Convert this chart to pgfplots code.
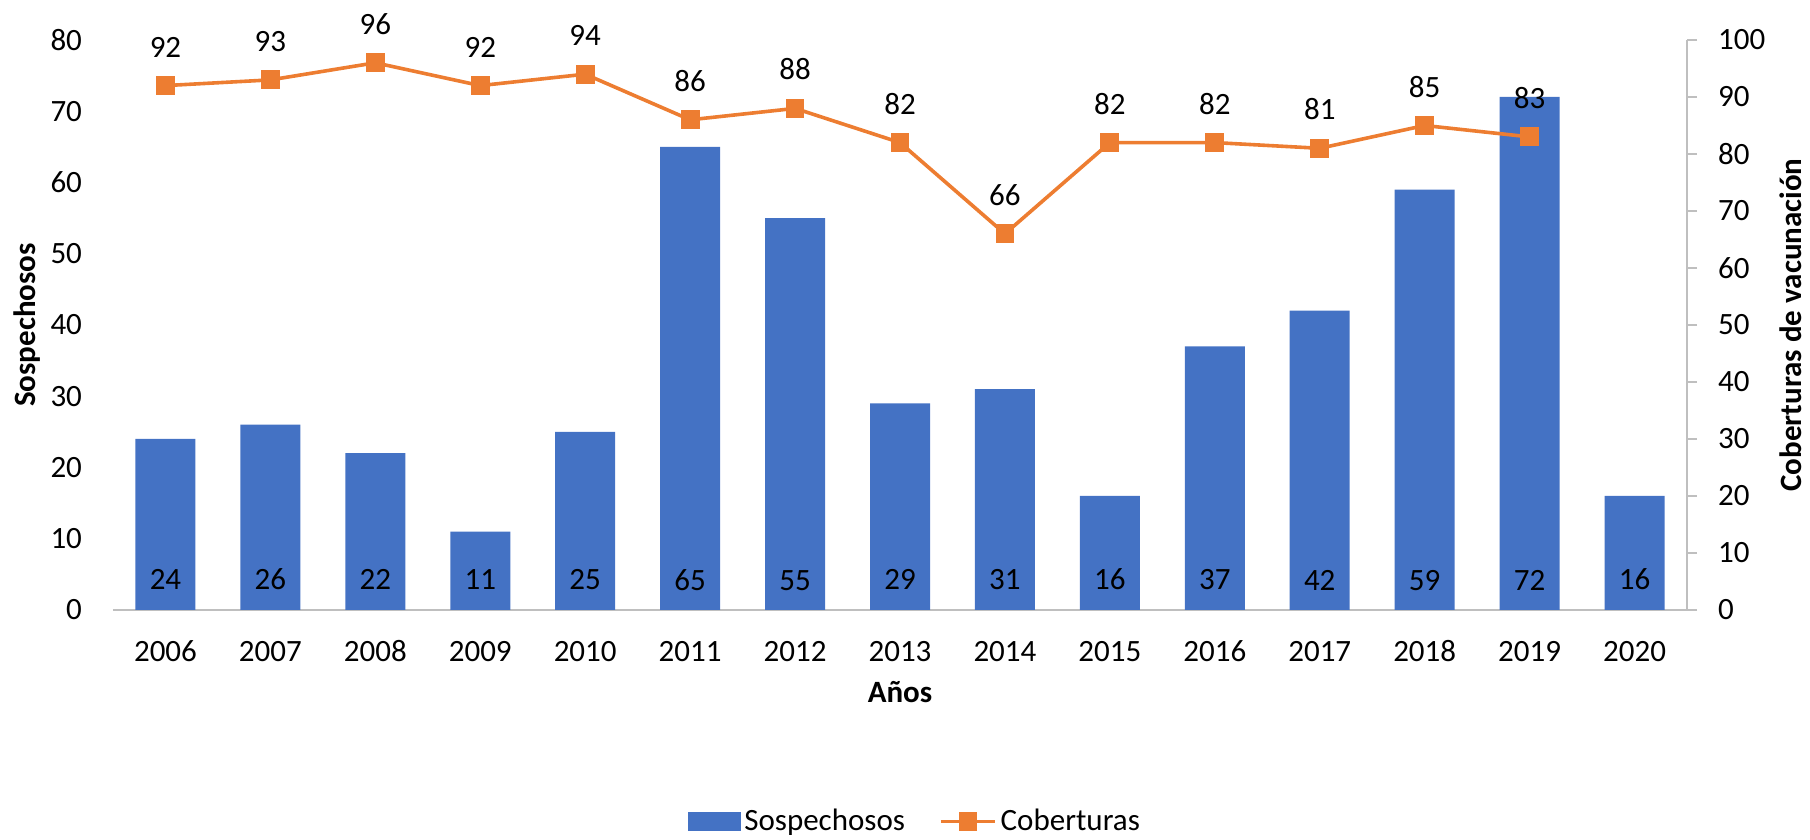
\documentclass[border=0pt]{standalone}
\usepackage{fontspec}
\setmainfont{Carlito}
\usepackage{pgfplots}
\pgfplotsset{compat=1.18}
\definecolor{barblue}{RGB}{68,114,196}
\definecolor{lineorange}{RGB}{237,125,49}
\definecolor{axisgray}{RGB}{191,191,191}
\pgfplotsset{
    wideline legend/.style={
        legend image code/.code={
            \draw[mark repeat=2, mark phase=2, ##1] plot coordinates {(0pt,0pt) (13.5pt,0pt) (27pt,0pt)};}},
    box legend/.style={
        legend image code/.code={\fill[##1] (0pt,-4.5pt) rectangle (26pt,4.5pt);}},
}

\begin{document}
\begin{tikzpicture}[font=\fontsize{15.5}{18}\selectfont]
\useasboundingbox (-56.5pt,-115pt) rectangle (848.5pt,305pt);
% bars, left axis
\begin{axis}[
    at={(0pt,0pt)}, anchor=south west,
    width=787pt, height=285pt, scale only axis,
    xmin=-0.5, xmax=14.5, ymin=0, ymax=80,
    enlargelimits=false,
    xtick={0,...,14},
    xticklabels={2006,2007,2008,2009,2010,2011,2012,2013,2014,2015,2016,2017,2018,2019,2020},
    ytick={0,10,...,80},
    axis lines*=left,
    x axis line style={-, axisgray, line width=1pt},
    y axis line style={draw=none},
    tick style={draw=none},
    xticklabel style={yshift=-12pt, text height=10pt, text depth=0pt},
    yticklabel style={xshift=-12pt},
    /pgf/number format/assume math mode=true,
    xlabel={\bfseries Años},
    xlabel style={at={(axis description cs:0.5,-0.1439)}, anchor=center},
    ylabel={\bfseries Sospechosos},
    ylabel style={at={(axis description cs:-0.0546,0.5)}, anchor=center},
]
\addplot[ybar, bar width=30pt, fill=barblue, draw=none,
    nodes near coords,
    visualization depends on=rawy \as \rawy,
    every node near coord/.append style={black, anchor=center, text height=10pt, text depth=0pt,
        yshift=15pt-\rawy*3.5625pt}]
coordinates {
    (0,24) (1,26) (2,22) (3,11) (4,25) (5,65) (6,55) (7,29)
    (8,31) (9,16) (10,37) (11,42) (12,59) (13,72) (14,16)
};
\end{axis}
% coverage line, right axis
\begin{axis}[
    at={(0pt,0pt)}, anchor=south west,
    width=787pt, height=285pt, scale only axis,
    xmin=-0.5, xmax=14.5, ymin=0, ymax=100,
    enlargelimits=false,
    axis x line=none,
    axis y line*=right,
    y axis line style={-, axisgray, line width=1pt},
    ytick={0,10,...,100},
    ytick style={axisgray, line width=1pt},
    tick align=outside, major tick length=5pt,
    yticklabel style={xshift=7pt},
    /pgf/number format/assume math mode=true,
    ylabel={\bfseries Coberturas de vacunación},
    ylabel style={at={(axis description cs:1.0661,0.5)}, anchor=center},
    legend style={at={(0.510,-0.371)}, anchor=center, draw=none,
        font=\fontsize{15.5}{18}\selectfont,
        legend columns=-1,
        /tikz/every odd column/.append style={column sep=0pt},
        /tikz/every even column/.append style={column sep=15pt}},
]
\addlegendimage{box legend, barblue}
\addlegendentry{Sospechosos}
\addplot[lineorange, line width=1.8pt, mark=square*, mark size=3.8pt,
    wideline legend,
    nodes near coords,
    every node near coord/.append style={black, yshift=10pt, text height=10pt, text depth=0pt}]
coordinates {
    (0,92) (1,93) (2,96) (3,92) (4,94) (5,86) (6,88) (7,82)
    (8,66) (9,82) (10,82) (11,81) (12,85) (13,83)
};
\addlegendentry{Coberturas}
\end{axis}
\end{tikzpicture}
\end{document}
